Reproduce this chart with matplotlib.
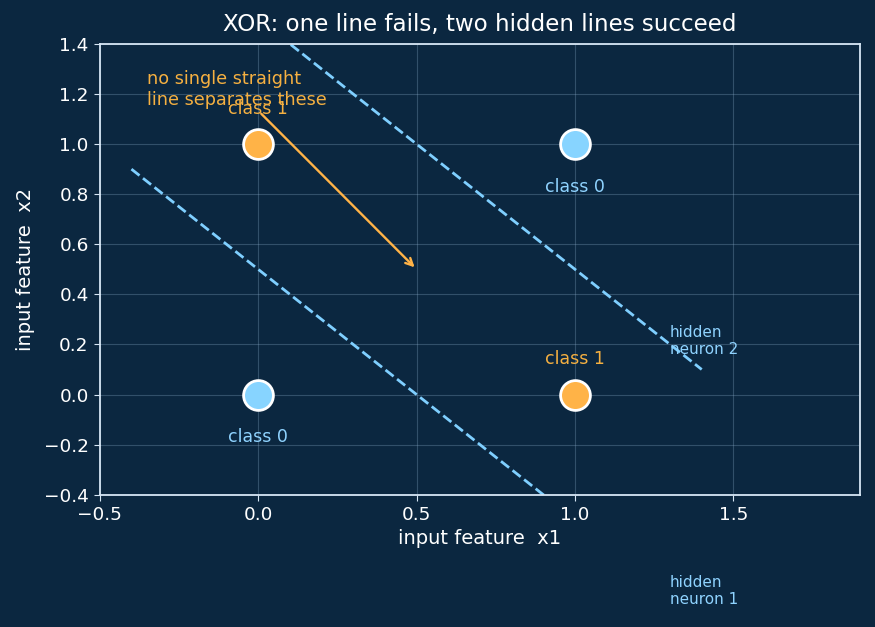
import numpy as np
import matplotlib.pyplot as plt

# XOR points
x1 = [0, 0, 1, 1]
x2 = [0, 1, 0, 1]
labels = [0, 1, 1, 0]

# hidden neuron lines: x2 = intercept - x1
line_names = ['hidden\nneuron 1', 'hidden\nneuron 2']
line_intercepts = [0.5, 1.5]
line_x = [-0.4, 1.4]

bg = '#0b2740'
orange = '#ffb347'
blue = '#87d4ff'
dash_col = '#7fcfff'
txt_orange = '#f5b041'
txt_blue = '#8fd3ff'

fig = plt.figure(figsize=(8.75, 6.27), dpi=100, facecolor=bg)
ax = fig.add_axes([0.114, 0.211, 0.869, 0.719])
ax.set_facecolor(bg)

for name, b in zip(line_names, line_intercepts):
    xs = np.array(line_x)
    ax.plot(xs, b - xs, '--', color=dash_col, lw=2)
    ax.text(line_x[1] - 0.1, b - line_x[1] + 0.05, name, color=txt_blue,
            fontsize=11, ha='left', va='bottom', clip_on=False)

for a, b, c in zip(x1, x2, labels):
    col = orange if c == 1 else blue
    ax.scatter(a, b, s=460, color=col, edgecolor='white', linewidth=2, zorder=5)
    if c == 1:
        ax.text(a, b + 0.14, 'class 1', color=txt_orange, fontsize=12.5,
                ha='center', va='center')
    else:
        ax.text(a, b - 0.17, 'class 0', color=txt_blue, fontsize=12.5,
                ha='center', va='center')

ax.annotate('no single straight\nline separates these', xy=(0.5, 0.5),
            xytext=(-0.35, 1.14), color=txt_orange, fontsize=12.7,
            ha='left', va='bottom',
            arrowprops=dict(arrowstyle='->', color=orange, lw=1.7))

ax.set_xlim(-0.5, 1.9)
ax.set_ylim(-0.4, 1.4)
ax.set_xticks([-0.5, 0.0, 0.5, 1.0, 1.5])
ax.grid(True, color='#8fb0cc', alpha=0.3, lw=0.8)
ax.set_axisbelow(True)
for s in ax.spines.values():
    s.set_color('#d6e6f5')
    s.set_linewidth(1.3)
ax.tick_params(colors='white', labelsize=13.3, length=4.5, color='#d6e6f5')
ax.set_xlabel('input feature  x1', color='white', fontsize=14)
ax.set_ylabel('input feature  x2', color='white', fontsize=14, labelpad=6)
ax.set_title('XOR: one line fails, two hidden lines succeed', color='white',
             fontsize=16.6, pad=9)

fig.savefig('out.png', facecolor=bg)
